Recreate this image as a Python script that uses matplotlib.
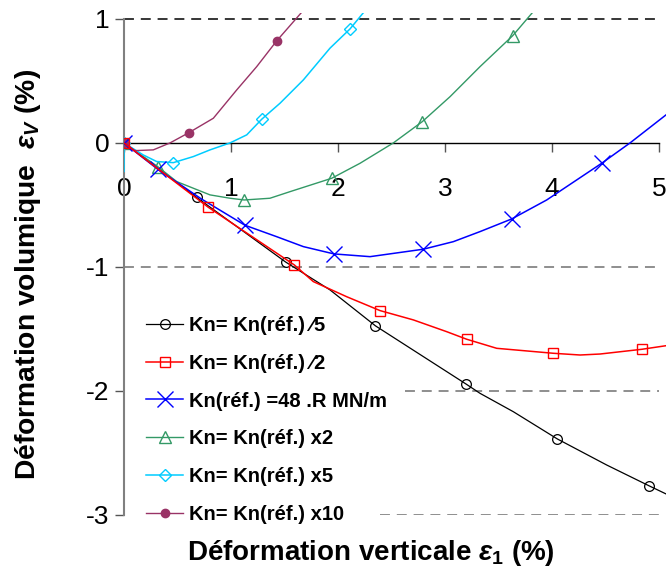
import matplotlib
matplotlib.use("Agg")
import matplotlib.pyplot as plt

plt.rcParams['font.family'] = ['Liberation Sans', 'DejaVu Sans']
plt.rcParams['mathtext.fontset'] = 'custom'
plt.rcParams['mathtext.rm'] = 'Liberation Sans:bold'
plt.rcParams['mathtext.it'] = 'Liberation Sans:italic:bold'
plt.rcParams['mathtext.bf'] = 'Liberation Sans:bold'
plt.rcParams['axes.unicode_minus'] = False

# series (x = vertical strain %, y = volumetric strain %)
black_x = [0, 0.68, 1.51, 1.925, 2.35, 3.20, 3.327, 3.638, 4.05, 4.511, 4.91, 5.065]
black_y = [0, -0.44, -0.96, -1.185, -1.475, -1.946, -2.019, -2.167, -2.387, -2.597, -2.766, -2.83]
black_marks = [0, 1, 2, 4, 5, 8, 10]

red_x = [0, 0.788, 1.592, 1.769, 2.081, 2.393, 2.704, 3.016, 3.203, 3.483, 4.012, 4.262, 4.449, 4.838, 5.065]
red_y = [0, -0.519, -0.984, -1.118, -1.24, -1.352, -1.427, -1.522, -1.583, -1.656, -1.696, -1.71, -1.702, -1.664, -1.635]
red_marks = [0, 1, 2, 5, 8, 10, 13]

blue_x = [0, 0.315, 0.72, 1.131, 1.427, 1.676, 1.963, 2.299, 2.797, 3.078, 3.327, 3.623, 3.95, 4.464, 4.729, 5.065]
blue_y = [0, -0.212, -0.45, -0.664, -0.756, -0.836, -0.895, -0.917, -0.857, -0.796, -0.715, -0.613, -0.46, -0.164, 0.0, 0.226]
blue_marks = [0, 1, 3, 6, 8, 11, 13]

green_x = [0, 0.315, 0.493, 0.804, 0.991, 1.124, 1.364, 1.551, 1.941, 2.206, 2.517, 2.788, 3.047, 3.327, 3.633, 3.822]
green_y = [0, -0.191, -0.312, -0.419, -0.446, -0.46, -0.446, -0.393, -0.285, -0.164, 0.0, 0.172, 0.373, 0.615, 0.865, 1.056]
green_marks = [0, 1, 5, 8, 11, 14]

cyan_x = [0, 0, 0.18, 0.305, 0.461, 0.648, 0.804, 0.991, 1.147, 1.287, 1.458, 1.676, 1.925, 2.112, 2.237]
cyan_y = [-0.23, 0, -0.097, -0.15, -0.159, -0.11, -0.056, 0.0, 0.065, 0.191, 0.32, 0.508, 0.764, 0.919, 1.05]
cyan_marks = [1, 4, 9, 13]

mag_x = [0, 0.103, 0.274, 0.43, 0.607, 0.835, 1.053, 1.24, 1.427, 1.661]
mag_y = [0, -0.062, -0.056, 0.0, 0.083, 0.199, 0.427, 0.615, 0.823, 1.054]
mag_marks = [0, 4, 8]

labels = ["Kn= Kn(réf.) \u20445", "Kn= Kn(réf.) \u20442", "Kn(réf.) =48 .R MN/m",
          "Kn= Kn(réf.) x2", "Kn= Kn(réf.) x5", "Kn= Kn(réf.) x10"]

# dashed gridlines: (level, start x) - the lower ones stop short of the legend
grid_levels = [1, -1, -2, -3]
grid_starts = [0, 0, 2.63, 2.39]

fig = plt.figure(figsize=(6.66, 5.74), dpi=100)
ax = fig.add_axes([124 / 666, 59 / 574, 542 / 666, 502.3 / 574])

for gy, gx in zip(grid_levels, grid_starts):
    col = "black" if gy == 1 else "#707070"
    ax.hlines(gy, gx, 5, colors=col, linewidth=1.1, linestyles=(0, (6.5, 4.5)), zorder=1)

ax.plot(black_x, black_y, color="black", lw=0.9, marker="o", ms=7, mfc="none", mec="black",
        mew=0.9, markevery=black_marks, label=labels[0], zorder=3)
ax.plot(red_x, red_y, color="#ff0000", lw=1.1, marker="s", ms=7.5, mfc="none", mec="#ff0000",
        mew=1.0, markevery=red_marks, label=labels[1], zorder=5)
ax.plot(blue_x, blue_y, color="#0000ff", lw=1.1, marker="x", ms=11, mec="#0000ff",
        mew=1.0, markevery=blue_marks, label=labels[2], zorder=4)
ax.plot(green_x, green_y, color="#339966", lw=1.0, marker="^", ms=8.5, mfc="none", mec="#339966",
        mew=1.0, markevery=green_marks, label=labels[3], zorder=3)
ax.plot(cyan_x, cyan_y, color="#00ccff", lw=1.1, marker="D", ms=6.5, mfc="none", mec="#00ccff",
        mew=1.0, markevery=cyan_marks, label=labels[4], zorder=3)
ax.plot(mag_x, mag_y, color="#993366", lw=1.0, marker="o", ms=6, mfc="#993366", mec="#993366",
        markevery=mag_marks, label=labels[5], zorder=3)

ax.set_xlim(0, 5.065)
ax.set_ylim(-3, 1.05)

ax.spines["top"].set_visible(False)
ax.spines["right"].set_visible(False)
ax.spines["bottom"].set_position(("data", 0))
ax.spines["bottom"].set_bounds(0, 5)
ax.spines["bottom"].set_color("black")
ax.spines["bottom"].set_linewidth(1.0)
ax.spines["left"].set_bounds(-3, 1)
ax.spines["left"].set_color("#808080")
ax.spines["left"].set_linewidth(1.5)

ax.set_xticks([0, 1, 2, 3, 4, 5])
ax.set_yticks([-3, -2, -1, 0, 1])
ax.tick_params(axis="x", direction="out", length=6.5, width=1.0, color="#555555",
               labelsize=19, pad=18)
ax.tick_params(axis="y", direction="out", length=6.5, width=1.0, color="#555555",
               labelsize=19, pad=4)

fig.text(371 / 666, 1 - 553 / 574, r"Déformation verticale $\mathit{ε_1}$ (%)",
         fontsize=20, fontweight="bold", ha="center", va="center")
fig.text(28 / 666, 1 - 274 / 574, r"Déformation volumique  $\mathit{ε_V}$ (%)",
         fontsize=20.3, fontweight="bold", ha="center", va="center", rotation=90)

leg = ax.legend(loc="upper left", bbox_to_anchor=(136 / 666, 1 - 306 / 574),
                bbox_transform=fig.transFigure, prop={"weight": "bold", "size": 14.5},
                handlelength=1.84, handletextpad=0.31, labelspacing=0.93, borderpad=0.5,
                borderaxespad=0, frameon=False)

fig.savefig("out.png", dpi=100)
